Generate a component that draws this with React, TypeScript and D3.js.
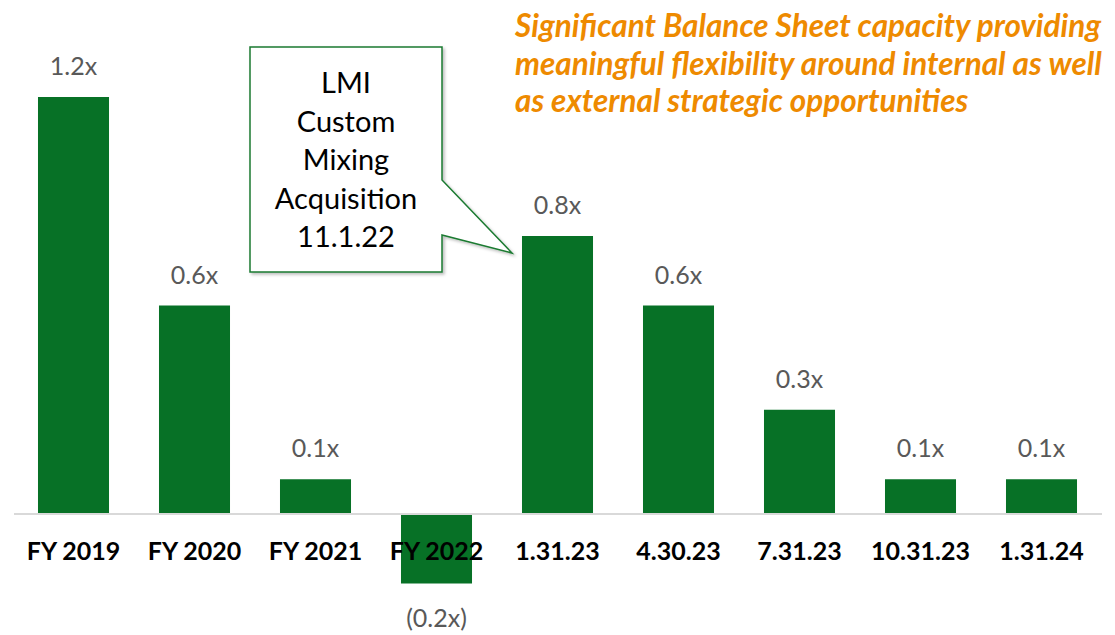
import React from "react";
import * as d3 from "d3";

const categories = ["FY 2019", "FY 2020", "FY 2021", "FY 2022", "1.31.23", "4.30.23", "7.31.23", "10.31.23", "1.31.24"];
const values = [1.2, 0.6, 0.1, -0.2, 0.8, 0.6, 0.3, 0.1, 0.1];
const valueLabels = ["1.2x", "0.6x", "0.1x", "(0.2x)", "0.8x", "0.6x", "0.3x", "0.1x", "0.1x"];
const titleLines = [
  "Significant Balance Sheet capacity providing",
  "meaningful flexibility around internal as well",
  "as external strategic opportunities",
];
const calloutLines = ["LMI", "Custom", "Mixing", "Acquisition", "11.1.22"];

const W = 1115;
const H = 635;
const BAR = "#077126";
const FONT = "Lato, 'Open Sans', sans-serif";

export default function App() {
  const x = d3
    .scaleBand<string>()
    .domain(categories)
    .range([13, 1102])
    .paddingInner(0.413)
    .paddingOuter(0.2065);
  const y = d3.scaleLinear().domain([-0.2, 1.2]).range([583.5, 97]);
  const y0 = y(0);

  const bx0 = 250, by0 = 47, bx1 = 442, by1 = 272;
  const tip: [number, number] = [512, 253];
  const calloutPath = `M${bx0},${by0} L${bx1},${by0} L${bx1},180 L${tip[0]},${tip[1]} L${bx1},235 L${bx1},${by1} L${bx0},${by1} Z`;

  return (
    <svg width={W} height={H} style={{ position: "absolute", left: 0, top: 0, background: "#fff" }}>
      <defs>
        <filter id="sh" x="-10%" y="-10%" width="130%" height="130%">
          <feDropShadow dx="2" dy="2" stdDeviation="1.5" floodColor="#000" floodOpacity="0.25" />
        </filter>
      </defs>
      {categories.map((c, i) => {
        const v = values[i];
        const top = v >= 0 ? y(v) : y0;
        const h = Math.abs(y(v) - y0);
        return <rect key={c} x={x(c)} y={top} width={x.bandwidth()} height={h} fill={BAR} />;
      })}
      <line x1={14} x2={1102} y1={y0} y2={y0} stroke="#d9d9d9" strokeWidth={2} />
      {categories.map((c, i) => {
        const v = values[i];
        const cx = (x(c) as number) + x.bandwidth() / 2;
        const ty = v >= 0 ? y(v) - 22 : y(v) + 43;
        return (
          <text key={c} x={cx} y={ty} textAnchor="middle" fontFamily={FONT} fontSize={25} fill="#595959">
            {valueLabels[i]}
          </text>
        );
      })}
      {categories.map((c) => (
        <text
          key={c}
          x={(x(c) as number) + x.bandwidth() / 2}
          y={560}
          textAnchor="middle"
          fontFamily={FONT}
          fontWeight="bold"
          fontSize={25}
          fill="#000"
        >
          {c}
        </text>
      ))}
      {titleLines.map((t, i) => (
        <text
          key={i}
          x={515}
          y={37 + i * 37.5}
          fontFamily={FONT}
          fontWeight="bold"
          fontStyle="italic"
          fontSize={31.5}
          fill="#ee8a00"
        >
          {t}
        </text>
      ))}
      <path d={calloutPath} fill="#fff" stroke="#1a7a30" strokeWidth={1.5} filter="url(#sh)" />
      {calloutLines.map((t, i) => (
        <text
          key={i}
          x={346}
          y={93 + i * 38.5}
          textAnchor="middle"
          fontFamily={FONT}
          fontSize={29}
          fill="#000"
        >
          {t}
        </text>
      ))}
    </svg>
  );
}
